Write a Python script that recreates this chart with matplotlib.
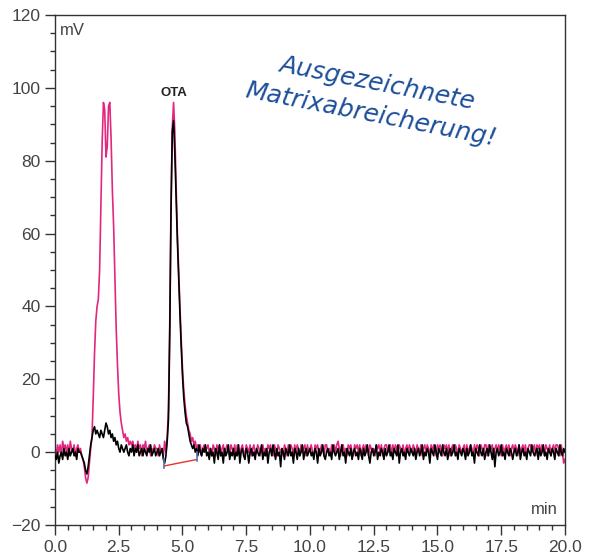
import numpy as np
import matplotlib
matplotlib.use("Agg")
import matplotlib.pyplot as plt
from matplotlib.ticker import MultipleLocator

# sampling grid: 0.05 min steps from 0 to 20 min (401 points)
time_min = np.linspace(0, 20, 401)

# magenta trace (sample without clean-up), one row per minute
pink_mv = [
    1, -1, 2, 0, 2, -1, 3, 1, 2, 0, 2, -1, 3, 1, 0, 2, -1, 1, 2, 0,
    1, -1, -2, -4, -7, -8.5, -7, -3, 1, 4, 15, 27, 36, 40, 42, 50, 68, 85, 96, 94,
    81, 84, 95, 96, 86, 72, 62, 48, 34, 24, 16, 11, 8, 6, 4, 5, 3, 4, 2, 3,
    2, 3, 1, 2, 0, 3, 1, 2, -1, 2, 1, 3, 0, 1, 2, -1, 1, 0, 2, 1,
    1, -1, 2, 0, 1, -1, 3, 0, 4, 12, 35, 68, 89, 96, 88, 73, 60, 50, 40, 31,
    23, 17, 13, 10, 8, 6, 5, 3, 4, 2, 3, 1, 2, 0, 2, -1, 1, 2, 0, 1,
    2, 0, 1, -1, 2, 1, -1, 2, 0, 2, -1, 1, 2, -1, 1, 2, 0, -1, 2, 1,
    0, 2, -1, 2, 1, -1, 1, 2, 0, -1, 2, 1, 0, 2, -1, 1, 2, -1, 0, 2,
    1, -1, 1, 2, 0, 1, -1, 2, 1, 2, 0, -1, 2, 1, -1, 2, 1, 0, 1, -1,
    2, 1, -1, 2, 0, 2, 1, -1, 2, 0, 2, 1, -1, 2, 0, 1, 2, -1, 2, 0,
    1, 2, 0, -1, 2, 1, 2, -1, 0, 2, 1, -1, 2, 2, 0, 1, -1, 2, 1, 2,
    0, 2, 3, 1, -1, 2, 2, 0, 1, -1, 2, 1, 2, 0, -1, 2, 1, 2, 0, 2,
    -1, 1, 2, 0, 2, 1, -1, 2, 1, 0, 1, -1, 2, 1, 2, 0, 2, -1, 1, 2,
    2, 0, 1, 2, -1, 2, 0, 2, 1, -1, 2, 1, 0, 2, -1, 1, 2, 0, 2, 1,
    0, 2, 1, -1, 2, 1, 0, 2, -1, 1, 2, 0, 2, 1, -1, 2, 0, 2, 1, -1,
    2, 1, 2, 0, -1, 2, 1, 2, 0, 2, -1, 1, 2, 0, 2, 1, -1, 2, 1, 0,
    1, 2, -1, 2, 0, 1, 2, 1, -1, 2, 0, 2, 1, -1, 2, 1, 0, 2, 2, -1,
    2, 0, 1, 2, -1, 1, 2, 0, 2, 1, -1, 2, 0, 1, 2, 0, 2, -1, 1, 2,
    0, 2, 1, -1, 2, 0, 1, 2, 0, 2, -1, 1, 2, 2, 0, 1, 2, -1, 2, 1,
    2, 0, 2, 1, -1, 2, 1, 0, 2, -1, 1, 2, 0, 2, 2, 1, -1, 2, 0, -3,
    -2,
]

# black trace (after clean-up)
black_mv = [
    -1, -2, 0, -3, -1, 0, -2, 1, -1, 0, -2, 1, -1, 0, 1, -1, 0, -2, 1, 0,
    0, -1, -2, -3, -5, -6, -4, -1, 2, 4, 6, 7, 5, 6, 5, 4, 6, 5, 4, 6,
    8, 7, 5, 6, 4, 5, 3, 4, 2, 3, 1, 0, 2, 1, 0, 1, 2, 0, -1, 1,
    0, 2, -1, 1, 0, 2, -1, 0, 1, -1, 1, 0, -1, 1, 0, 2, -1, 0, 1, -1,
    0, 1, -1, 0, 1, -2, -3, -1, 3, 9, 32, 66, 88, 91, 82, 70, 58, 48, 38, 29,
    21, 15, 11, 8, 7, 5, 3, 2, 1, 2, 0, 1, -1, 2, 0, -1, 1, 0, 2, -1,
    0, -2, 1, -1, 0, -3, 1, 0, -2, 2, -1, 0, -3, 1, -1, 0, 2, -2, 0, -1,
    1, -2, 0, -1, 2, -3, 0, 1, -1, -2, 1, 0, -3, 0, 1, -1, 0, -2, 1, 0,
    -1, 0, 2, -2, 0, -1, 1, -3, 0, 1, -1, 2, 0, -2, 1, -1, 0, -4, 1, 0,
    -2, 1, 0, -1, 2, -1, 0, -3, 1, 0, -2, 1, -1, 0, 2, -2, 0, 1, -1, 0,
    1, -1, 0, -2, 1, 0, -3, 1, -1, 0, 2, -1, -2, 0, 1, -1, 0, -2, 2, 0,
    -1, 0, 1, -2, 0, 2, -1, 0, -3, 1, 0, -1, 1, -2, 0, 1, -1, 0, -2, 1,
    0, -2, 1, -1, 0, 2, -1, -3, 0, 1, -1, 0, 2, -2, 0, -1, 1, 0, -2, 1,
    -1, 0, 2, -1, 0, -2, 1, 0, -1, 2, -3, 0, 1, -1, 0, -2, 1, 0, -1, 1,
    0, -1, 1, -2, 0, 1, -1, 0, 2, -2, 0, -1, 1, 0, -3, 1, 0, -1, 2, 0,
    -2, 1, 0, -1, 2, 0, -1, 1, -2, 0, 1, -1, 0, 2, -1, 0, -2, 1, 0, -1,
    1, 0, -2, 1, -1, 0, 2, -1, 0, -3, 1, 0, -1, 2, 0, -1, 1, -2, 0, 1,
    -1, 2, 0, -2, 1, -4, 0, 1, -1, 0, 2, -1, 0, -2, 1, 0, -1, 1, 0, -2,
    0, 1, -1, 0, 2, -2, 0, 1, -1, 0, -2, 1, 0, -1, 2, 0, -1, 0, 1, -2,
    1, -1, 0, 2, -1, 0, -2, 1, 0, -1, 1, 0, -2, 1, 0, -1, 2, 0, -1, 1,
    0,
]

# integration baseline of the OTA peak
baseline_t = [4.27, 5.57]
baseline_mv = [-3.8, -2.0]

peak_label = "OTA"
peak_t = 4.67
peak_label_mv = 97

fig = plt.figure(figsize=(5.9, 5.58), dpi=100)
ax = fig.add_axes([0.0932, 0.0591, 0.8644, 0.914])

ax.plot(time_min, pink_mv, color="#e2277f", lw=1.2, zorder=2)
ax.plot(time_min, black_mv, color="black", lw=1.2, zorder=3)

ax.plot(baseline_t, baseline_mv, color="#e8322a", lw=1.0, zorder=4)
for t, v in zip(baseline_t, baseline_mv):
    ax.plot([t, t], [v - 0.5, v + 2.0], color="#5577bb", lw=1.2, zorder=4)

ax.text(peak_t, peak_label_mv, peak_label, ha="center", va="bottom",
        fontsize=9.5, fontweight="bold", color="#222222",
        family="Liberation Sans")

ax.text(12.5, 97, "Ausgezeichnete\nMatrixabreicherung!", ha="center",
        va="center", rotation=-11, rotation_mode="anchor", fontsize=18,
        style="italic", color="#1c4f99", linespacing=1.4)

ax.set_xlim(0, 20)
ax.set_ylim(-20, 120)
ax.xaxis.set_major_locator(MultipleLocator(2.5))
ax.xaxis.set_minor_locator(MultipleLocator(0.5))
ax.yaxis.set_major_locator(MultipleLocator(20))
ax.yaxis.set_minor_locator(MultipleLocator(5))
ax.xaxis.set_major_formatter(lambda v, p: f"{v:.1f}")
ax.tick_params(which="major", length=7, width=1, color="#333333",
               labelsize=12.5, labelcolor="#444444")
ax.tick_params(which="minor", length=3.5, width=1, color="#333333")
for lab in ax.get_xticklabels() + ax.get_yticklabels():
    lab.set_family("Liberation Sans")
for s in ax.spines.values():
    s.set_color("#333333")
    s.set_linewidth(1)

ax.text(0.01, 0.985, "mV", transform=ax.transAxes, ha="left", va="top",
        fontsize=12, color="#444444", family="Liberation Sans")
ax.text(0.985, 0.015, "min", transform=ax.transAxes, ha="right", va="bottom",
        fontsize=12, color="#444444", family="Liberation Sans")

plt.savefig("out.png", dpi=100)
